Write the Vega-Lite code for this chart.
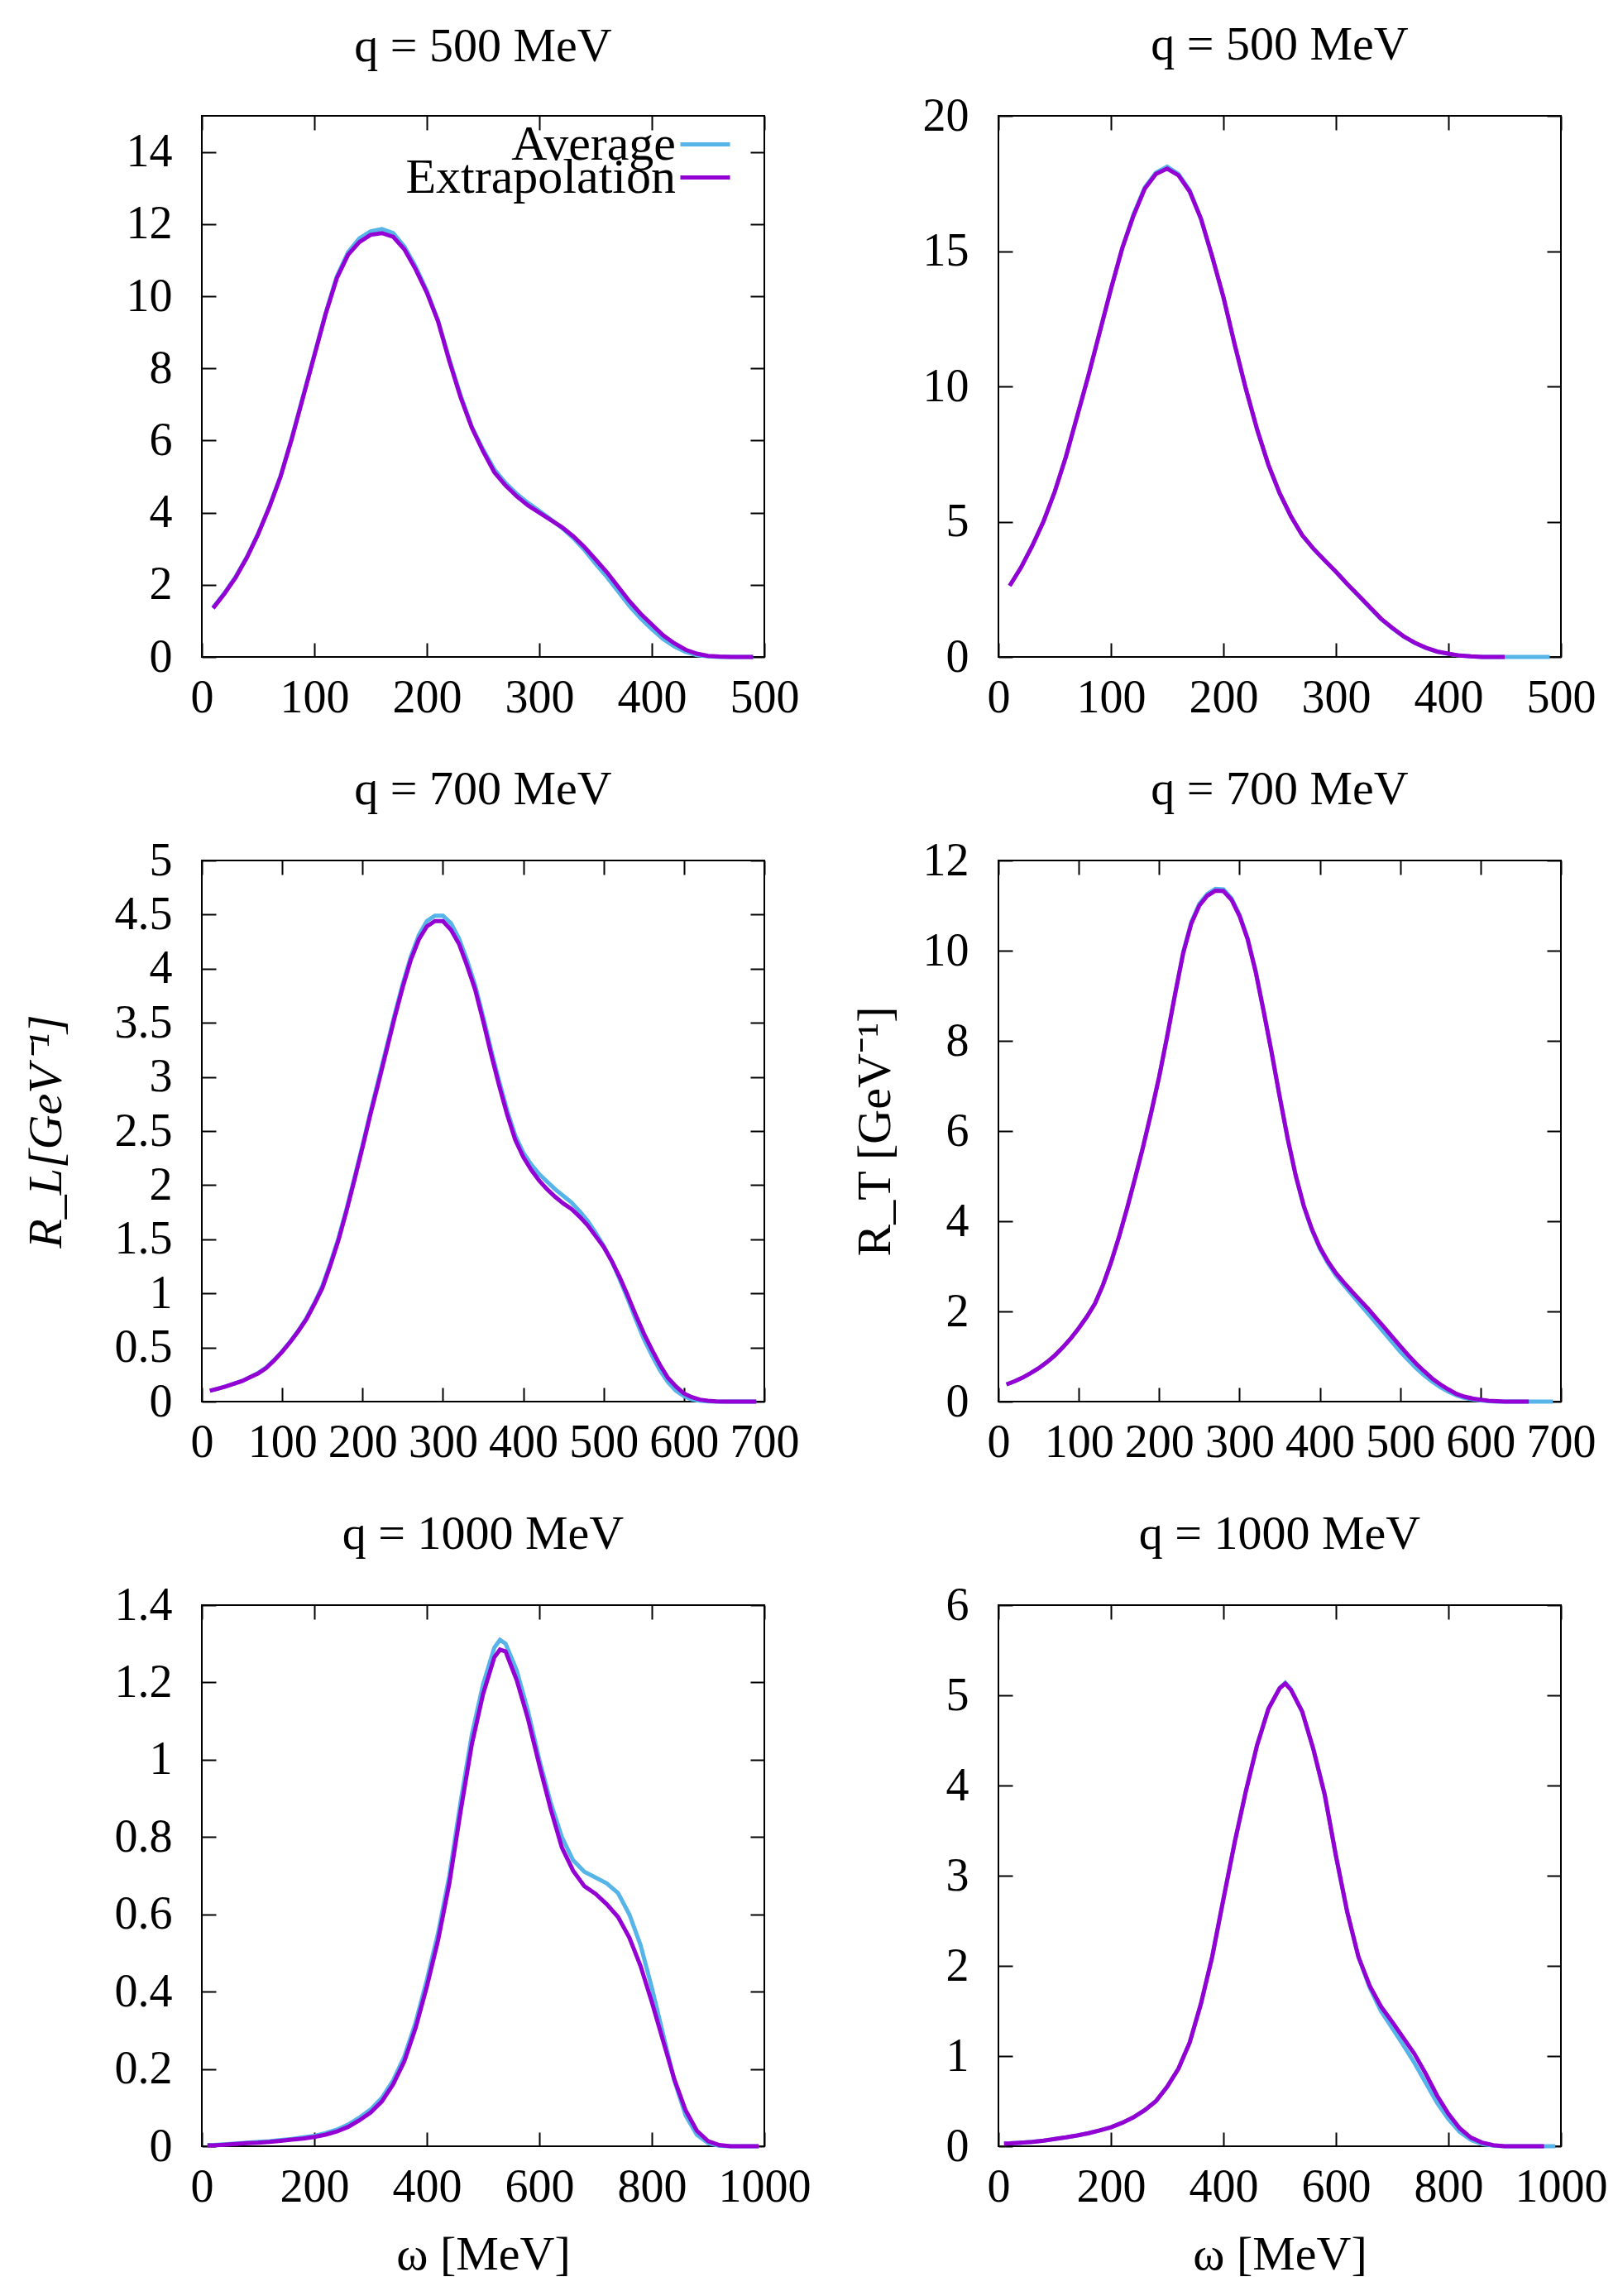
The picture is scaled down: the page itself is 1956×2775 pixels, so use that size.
{
  "$schema": "https://vega.github.io/schema/vega-lite/v6.json",
  "background": "white",
  "padding": {"left": 26, "top": 25, "right": 10, "bottom": 10},
  "config": {
    "view": {"stroke": "black", "strokeWidth": 2},
    "title": {"font": "Liberation Serif", "fontSize": 58, "fontWeight": "normal", "color": "black", "baseline": "alphabetic", "offset": 28, "frame": "group"},
    "axis": {
      "domain": false, "grid": false, "tickColor": "black", "tickWidth": 2, "tickSize": -17,
      "labelFont": "Liberation Serif", "labelFontSize": 56, "labelColor": "black",
      "labelFlush": false, "labelOverlap": false, "labelBound": false, "labelPadding": 39,
      "titleFont": "Liberation Serif", "titleFontSize": 58, "titleFontWeight": "normal", "titleColor": "black"
    },
    "axisLeft": {"labelPadding": 53},
    "axisTop": {"labels": false},
    "axisRight": {"labels": false},
    "legend": {"orient": "none", "title": null, "padding": 0, "symbolType": "stroke", "symbolSize": 3600, "symbolStrokeWidth": 5,
      "labelAlign": "right", "labelOffset": -68, "labelFont": "Liberation Serif", "labelFontSize": 60, "labelColor": "black", "labelLimit": 0},
    "line": {"strokeWidth": 5, "interpolate": "linear"}
  },
  "datasets": {
    "p1": [
      {"w":10,"Average":1.37,"Extrapolation":1.35},{"w":20,"Average":1.77,"Extrapolation":1.75},{"w":30,"Average":2.22,"Extrapolation":2.2},
      {"w":40,"Average":2.77,"Extrapolation":2.75},{"w":50,"Average":3.42,"Extrapolation":3.4},{"w":60,"Average":4.17,"Extrapolation":4.15},
      {"w":70,"Average":5.02,"Extrapolation":5.0},{"w":80,"Average":6.08,"Extrapolation":6.05},{"w":90,"Average":7.23,"Extrapolation":7.2},
      {"w":100,"Average":8.38,"Extrapolation":8.35},{"w":110,"Average":9.53,"Extrapolation":9.5},{"w":120,"Average":10.55,"Extrapolation":10.5},
      {"w":130,"Average":11.22,"Extrapolation":11.15},{"w":140,"Average":11.6,"Extrapolation":11.5},{"w":150,"Average":11.8,"Extrapolation":11.7},
      {"w":160,"Average":11.86,"Extrapolation":11.75},{"w":170,"Average":11.75,"Extrapolation":11.65},{"w":180,"Average":11.38,"Extrapolation":11.3},
      {"w":190,"Average":10.82,"Extrapolation":10.75},{"w":200,"Average":10.15,"Extrapolation":10.1},{"w":210,"Average":9.32,"Extrapolation":9.3},
      {"w":220,"Average":8.25,"Extrapolation":8.2},{"w":230,"Average":7.25,"Extrapolation":7.2},{"w":240,"Average":6.38,"Extrapolation":6.35},
      {"w":250,"Average":5.75,"Extrapolation":5.7},{"w":260,"Average":5.2,"Extrapolation":5.12},{"w":270,"Average":4.82,"Extrapolation":4.75},
      {"w":280,"Average":4.52,"Extrapolation":4.45},{"w":290,"Average":4.27,"Extrapolation":4.2},{"w":300,"Average":4.05,"Extrapolation":4.0},
      {"w":310,"Average":3.82,"Extrapolation":3.8},{"w":320,"Average":3.58,"Extrapolation":3.6},{"w":330,"Average":3.3,"Extrapolation":3.35},
      {"w":340,"Average":2.97,"Extrapolation":3.05},{"w":350,"Average":2.58,"Extrapolation":2.7},{"w":360,"Average":2.22,"Extrapolation":2.35},
      {"w":370,"Average":1.82,"Extrapolation":1.95},{"w":380,"Average":1.42,"Extrapolation":1.55},{"w":390,"Average":1.07,"Extrapolation":1.2},
      {"w":400,"Average":0.77,"Extrapolation":0.9},{"w":410,"Average":0.5,"Extrapolation":0.6},{"w":420,"Average":0.29,"Extrapolation":0.38},
      {"w":430,"Average":0.14,"Extrapolation":0.2},{"w":440,"Average":0.05,"Extrapolation":0.09},{"w":450,"Average":0.015,"Extrapolation":0.03},
      {"w":460,"Average":0,"Extrapolation":0.01},{"w":470,"Average":0,"Extrapolation":0},{"w":480,"Average":0,"Extrapolation":0},
      {"w":490,"Average":0,"Extrapolation":0}
    ],
    "p2": [
      {"w":10,"Average":2.63,"Extrapolation":2.63},{"w":20,"Average":3.3,"Extrapolation":3.3},{"w":30,"Average":4.1,"Extrapolation":4.1},
      {"w":40,"Average":5.0,"Extrapolation":5.0},{"w":50,"Average":6.1,"Extrapolation":6.1},{"w":60,"Average":7.4,"Extrapolation":7.4},
      {"w":70,"Average":8.9,"Extrapolation":8.9},{"w":80,"Average":10.4,"Extrapolation":10.4},{"w":90,"Average":12.0,"Extrapolation":12.0},
      {"w":100,"Average":13.6,"Extrapolation":13.6},{"w":110,"Average":15.1,"Extrapolation":15.1},{"w":120,"Average":16.35,"Extrapolation":16.3},
      {"w":130,"Average":17.35,"Extrapolation":17.3},{"w":140,"Average":17.9,"Extrapolation":17.85},{"w":150,"Average":18.12,"Extrapolation":18.05},
      {"w":160,"Average":17.85,"Extrapolation":17.8},{"w":170,"Average":17.25,"Extrapolation":17.2},{"w":180,"Average":16.2,"Extrapolation":16.2},
      {"w":190,"Average":14.8,"Extrapolation":14.8},{"w":200,"Average":13.3,"Extrapolation":13.3},{"w":210,"Average":11.55,"Extrapolation":11.55},
      {"w":220,"Average":9.9,"Extrapolation":9.9},{"w":230,"Average":8.4,"Extrapolation":8.4},{"w":240,"Average":7.1,"Extrapolation":7.1},
      {"w":250,"Average":6.05,"Extrapolation":6.05},{"w":260,"Average":5.2,"Extrapolation":5.2},{"w":270,"Average":4.5,"Extrapolation":4.5},
      {"w":280,"Average":4.0,"Extrapolation":4.0},{"w":290,"Average":3.57,"Extrapolation":3.57},{"w":300,"Average":3.15,"Extrapolation":3.15},
      {"w":310,"Average":2.7,"Extrapolation":2.7},{"w":320,"Average":2.26,"Extrapolation":2.28},{"w":330,"Average":1.83,"Extrapolation":1.85},
      {"w":340,"Average":1.4,"Extrapolation":1.42},{"w":350,"Average":1.06,"Extrapolation":1.08},{"w":360,"Average":0.76,"Extrapolation":0.77},
      {"w":370,"Average":0.52,"Extrapolation":0.53},{"w":380,"Average":0.33,"Extrapolation":0.34},{"w":390,"Average":0.2,"Extrapolation":0.2},
      {"w":400,"Average":0.11,"Extrapolation":0.12},{"w":410,"Average":0.05,"Extrapolation":0.05},{"w":420,"Average":0.02,"Extrapolation":0.02},
      {"w":430,"Average":0,"Extrapolation":0},{"w":440,"Average":0,"Extrapolation":0},{"w":450,"Average":0,"Extrapolation":0},
      {"w":460,"Average":0,"Extrapolation":null},{"w":470,"Average":0,"Extrapolation":null},{"w":480,"Average":0,"Extrapolation":null},
      {"w":490,"Average":0,"Extrapolation":null}
    ],
    "p3": [
      {"w":10,"Average":0.1,"Extrapolation":0.1},{"w":20,"Average":0.12,"Extrapolation":0.12},{"w":30,"Average":0.14,"Extrapolation":0.14},
      {"w":40,"Average":0.165,"Extrapolation":0.165},{"w":50,"Average":0.19,"Extrapolation":0.19},{"w":60,"Average":0.225,"Extrapolation":0.225},
      {"w":70,"Average":0.265,"Extrapolation":0.26},{"w":80,"Average":0.315,"Extrapolation":0.31},{"w":90,"Average":0.385,"Extrapolation":0.38},
      {"w":100,"Average":0.465,"Extrapolation":0.46},{"w":110,"Average":0.555,"Extrapolation":0.55},{"w":120,"Average":0.655,"Extrapolation":0.65},
      {"w":130,"Average":0.77,"Extrapolation":0.76},{"w":140,"Average":0.91,"Extrapolation":0.9},{"w":150,"Average":1.07,"Extrapolation":1.05},
      {"w":160,"Average":1.28,"Extrapolation":1.26},{"w":170,"Average":1.51,"Extrapolation":1.49},{"w":180,"Average":1.78,"Extrapolation":1.76},
      {"w":190,"Average":2.07,"Extrapolation":2.05},{"w":200,"Average":2.37,"Extrapolation":2.35},{"w":210,"Average":2.68,"Extrapolation":2.66},
      {"w":220,"Average":2.98,"Extrapolation":2.95},{"w":230,"Average":3.28,"Extrapolation":3.25},{"w":240,"Average":3.58,"Extrapolation":3.55},
      {"w":250,"Average":3.86,"Extrapolation":3.83},{"w":260,"Average":4.11,"Extrapolation":4.08},{"w":270,"Average":4.31,"Extrapolation":4.27},
      {"w":280,"Average":4.44,"Extrapolation":4.39},{"w":290,"Average":4.49,"Extrapolation":4.44},{"w":300,"Average":4.49,"Extrapolation":4.44},
      {"w":310,"Average":4.42,"Extrapolation":4.36},{"w":320,"Average":4.28,"Extrapolation":4.23},{"w":330,"Average":4.08,"Extrapolation":4.03},
      {"w":340,"Average":3.85,"Extrapolation":3.81},{"w":350,"Average":3.56,"Extrapolation":3.52},{"w":360,"Average":3.25,"Extrapolation":3.21},
      {"w":370,"Average":2.96,"Extrapolation":2.92},{"w":380,"Average":2.69,"Extrapolation":2.65},{"w":390,"Average":2.46,"Extrapolation":2.42},
      {"w":400,"Average":2.3,"Extrapolation":2.26},{"w":410,"Average":2.19,"Extrapolation":2.14},{"w":420,"Average":2.1,"Extrapolation":2.04},
      {"w":430,"Average":2.03,"Extrapolation":1.96},{"w":440,"Average":1.96,"Extrapolation":1.89},{"w":450,"Average":1.9,"Extrapolation":1.83},
      {"w":460,"Average":1.84,"Extrapolation":1.78},{"w":470,"Average":1.76,"Extrapolation":1.71},{"w":480,"Average":1.67,"Extrapolation":1.63},
      {"w":490,"Average":1.56,"Extrapolation":1.53},{"w":500,"Average":1.44,"Extrapolation":1.43},{"w":510,"Average":1.3,"Extrapolation":1.3},
      {"w":520,"Average":1.13,"Extrapolation":1.15},{"w":530,"Average":0.95,"Extrapolation":0.98},{"w":540,"Average":0.76,"Extrapolation":0.8},
      {"w":550,"Average":0.58,"Extrapolation":0.63},{"w":560,"Average":0.43,"Extrapolation":0.48},{"w":570,"Average":0.29,"Extrapolation":0.34},
      {"w":580,"Average":0.18,"Extrapolation":0.22},{"w":590,"Average":0.1,"Extrapolation":0.14},{"w":600,"Average":0.05,"Extrapolation":0.075},
      {"w":610,"Average":0.02,"Extrapolation":0.04},{"w":620,"Average":0.008,"Extrapolation":0.018},{"w":630,"Average":0.002,"Extrapolation":0.008},
      {"w":640,"Average":0,"Extrapolation":0.002},{"w":650,"Average":0,"Extrapolation":0},{"w":660,"Average":0,"Extrapolation":0},
      {"w":670,"Average":0,"Extrapolation":0},{"w":680,"Average":0,"Extrapolation":0},{"w":690,"Average":0,"Extrapolation":0}
    ],
    "p4": [
      {"w":10,"Average":0.38,"Extrapolation":0.38},{"w":20,"Average":0.45,"Extrapolation":0.45},{"w":30,"Average":0.53,"Extrapolation":0.53},
      {"w":40,"Average":0.63,"Extrapolation":0.63},{"w":50,"Average":0.74,"Extrapolation":0.74},{"w":60,"Average":0.87,"Extrapolation":0.87},
      {"w":70,"Average":1.02,"Extrapolation":1.02},{"w":80,"Average":1.2,"Extrapolation":1.2},{"w":90,"Average":1.4,"Extrapolation":1.4},
      {"w":100,"Average":1.63,"Extrapolation":1.63},{"w":110,"Average":1.88,"Extrapolation":1.88},{"w":120,"Average":2.17,"Extrapolation":2.17},
      {"w":130,"Average":2.58,"Extrapolation":2.58},{"w":140,"Average":3.08,"Extrapolation":3.08},{"w":150,"Average":3.65,"Extrapolation":3.65},
      {"w":160,"Average":4.28,"Extrapolation":4.28},{"w":170,"Average":4.95,"Extrapolation":4.95},{"w":180,"Average":5.65,"Extrapolation":5.65},
      {"w":190,"Average":6.4,"Extrapolation":6.4},{"w":200,"Average":7.2,"Extrapolation":7.2},{"w":210,"Average":8.1,"Extrapolation":8.1},
      {"w":220,"Average":9.05,"Extrapolation":9.05},{"w":230,"Average":9.97,"Extrapolation":9.95},{"w":240,"Average":10.63,"Extrapolation":10.6},
      {"w":250,"Average":11.04,"Extrapolation":11.0},{"w":260,"Average":11.26,"Extrapolation":11.22},{"w":270,"Average":11.37,"Extrapolation":11.33},
      {"w":280,"Average":11.36,"Extrapolation":11.32},{"w":290,"Average":11.16,"Extrapolation":11.13},{"w":300,"Average":10.8,"Extrapolation":10.77},
      {"w":310,"Average":10.28,"Extrapolation":10.26},{"w":320,"Average":9.56,"Extrapolation":9.54},{"w":330,"Average":8.67,"Extrapolation":8.66},
      {"w":340,"Average":7.75,"Extrapolation":7.74},{"w":350,"Average":6.77,"Extrapolation":6.76},{"w":360,"Average":5.83,"Extrapolation":5.83},
      {"w":370,"Average":5.01,"Extrapolation":5.01},{"w":380,"Average":4.33,"Extrapolation":4.34},{"w":390,"Average":3.81,"Extrapolation":3.83},
      {"w":400,"Average":3.39,"Extrapolation":3.42},{"w":410,"Average":3.07,"Extrapolation":3.11},{"w":420,"Average":2.8,"Extrapolation":2.85},
      {"w":430,"Average":2.58,"Extrapolation":2.64},{"w":440,"Average":2.37,"Extrapolation":2.44},{"w":450,"Average":2.16,"Extrapolation":2.25},
      {"w":460,"Average":1.95,"Extrapolation":2.06},{"w":470,"Average":1.74,"Extrapolation":1.85},{"w":480,"Average":1.53,"Extrapolation":1.65},
      {"w":490,"Average":1.32,"Extrapolation":1.44},{"w":500,"Average":1.11,"Extrapolation":1.23},{"w":510,"Average":0.92,"Extrapolation":1.03},
      {"w":520,"Average":0.74,"Extrapolation":0.84},{"w":530,"Average":0.58,"Extrapolation":0.67},{"w":540,"Average":0.44,"Extrapolation":0.51},
      {"w":550,"Average":0.32,"Extrapolation":0.38},{"w":560,"Average":0.22,"Extrapolation":0.27},{"w":570,"Average":0.14,"Extrapolation":0.17},
      {"w":580,"Average":0.08,"Extrapolation":0.11},{"w":590,"Average":0.05,"Extrapolation":0.07},{"w":600,"Average":0.025,"Extrapolation":0.04},
      {"w":610,"Average":0.01,"Extrapolation":0.02},{"w":620,"Average":0,"Extrapolation":0.01},{"w":630,"Average":0,"Extrapolation":0},
      {"w":640,"Average":0,"Extrapolation":0},{"w":650,"Average":0,"Extrapolation":0},{"w":660,"Average":0,"Extrapolation":0},
      {"w":670,"Average":0,"Extrapolation":null},{"w":680,"Average":0,"Extrapolation":null},{"w":690,"Average":0,"Extrapolation":null}
    ],
    "p5": [
      {"w":10,"Average":0.003,"Extrapolation":0.002},{"w":20,"Average":0.003,"Extrapolation":0.002},{"w":40,"Average":0.005,"Extrapolation":0.004},
      {"w":60,"Average":0.007,"Extrapolation":0.006},{"w":80,"Average":0.009,"Extrapolation":0.008},{"w":100,"Average":0.011,"Extrapolation":0.009},
      {"w":120,"Average":0.013,"Extrapolation":0.011},{"w":140,"Average":0.016,"Extrapolation":0.014},{"w":160,"Average":0.019,"Extrapolation":0.017},
      {"w":180,"Average":0.023,"Extrapolation":0.02},{"w":200,"Average":0.027,"Extrapolation":0.024},{"w":220,"Average":0.034,"Extrapolation":0.03},
      {"w":240,"Average":0.043,"Extrapolation":0.038},{"w":260,"Average":0.056,"Extrapolation":0.05},{"w":280,"Average":0.074,"Extrapolation":0.067},
      {"w":300,"Average":0.095,"Extrapolation":0.087},{"w":320,"Average":0.125,"Extrapolation":0.116},{"w":340,"Average":0.17,"Extrapolation":0.16},
      {"w":360,"Average":0.232,"Extrapolation":0.22},{"w":380,"Average":0.32,"Extrapolation":0.306},{"w":400,"Average":0.43,"Extrapolation":0.413},
      {"w":420,"Average":0.552,"Extrapolation":0.533},{"w":440,"Average":0.7,"Extrapolation":0.68},{"w":460,"Average":0.89,"Extrapolation":0.866},
      {"w":480,"Average":1.065,"Extrapolation":1.04},{"w":500,"Average":1.195,"Extrapolation":1.17},{"w":520,"Average":1.29,"Extrapolation":1.265},
      {"w":530,"Average":1.31,"Extrapolation":1.285},{"w":540,"Average":1.3,"Extrapolation":1.28},{"w":560,"Average":1.23,"Extrapolation":1.205},
      {"w":580,"Average":1.125,"Extrapolation":1.105},{"w":600,"Average":1.0,"Extrapolation":0.986},{"w":620,"Average":0.89,"Extrapolation":0.873},
      {"w":640,"Average":0.8,"Extrapolation":0.773},{"w":660,"Average":0.74,"Extrapolation":0.713},{"w":680,"Average":0.71,"Extrapolation":0.673},
      {"w":700,"Average":0.695,"Extrapolation":0.653},{"w":720,"Average":0.68,"Extrapolation":0.626},{"w":740,"Average":0.655,"Extrapolation":0.593},
      {"w":760,"Average":0.6,"Extrapolation":0.54},{"w":780,"Average":0.52,"Extrapolation":0.466},{"w":800,"Average":0.41,"Extrapolation":0.373},
      {"w":820,"Average":0.29,"Extrapolation":0.273},{"w":840,"Average":0.17,"Extrapolation":0.173},{"w":860,"Average":0.08,"Extrapolation":0.093},
      {"w":880,"Average":0.03,"Extrapolation":0.04},{"w":900,"Average":0.008,"Extrapolation":0.013},{"w":920,"Average":0.001,"Extrapolation":0.003},
      {"w":940,"Average":0,"Extrapolation":0},{"w":960,"Average":0,"Extrapolation":0},{"w":980,"Average":0,"Extrapolation":0},
      {"w":990,"Average":0,"Extrapolation":0}
    ],
    "p6": [
      {"w":10,"Average":0.03,"Extrapolation":0.03},{"w":20,"Average":0.032,"Extrapolation":0.032},{"w":40,"Average":0.04,"Extrapolation":0.04},
      {"w":60,"Average":0.048,"Extrapolation":0.048},{"w":80,"Average":0.062,"Extrapolation":0.062},{"w":100,"Average":0.08,"Extrapolation":0.08},
      {"w":120,"Average":0.098,"Extrapolation":0.098},{"w":140,"Average":0.12,"Extrapolation":0.12},{"w":160,"Average":0.145,"Extrapolation":0.145},
      {"w":180,"Average":0.175,"Extrapolation":0.175},{"w":200,"Average":0.21,"Extrapolation":0.21},{"w":220,"Average":0.26,"Extrapolation":0.26},
      {"w":240,"Average":0.32,"Extrapolation":0.32},{"w":260,"Average":0.4,"Extrapolation":0.4},{"w":280,"Average":0.5,"Extrapolation":0.5},
      {"w":300,"Average":0.66,"Extrapolation":0.66},{"w":320,"Average":0.86,"Extrapolation":0.86},{"w":340,"Average":1.15,"Extrapolation":1.15},
      {"w":360,"Average":1.58,"Extrapolation":1.58},{"w":380,"Average":2.1,"Extrapolation":2.1},{"w":400,"Average":2.74,"Extrapolation":2.74},
      {"w":420,"Average":3.37,"Extrapolation":3.37},{"w":440,"Average":3.94,"Extrapolation":3.94},{"w":460,"Average":4.45,"Extrapolation":4.45},
      {"w":480,"Average":4.85,"Extrapolation":4.85},{"w":500,"Average":5.08,"Extrapolation":5.08},{"w":510,"Average":5.14,"Extrapolation":5.13},
      {"w":520,"Average":5.07,"Extrapolation":5.06},{"w":540,"Average":4.82,"Extrapolation":4.82},{"w":560,"Average":4.4,"Extrapolation":4.4},
      {"w":580,"Average":3.9,"Extrapolation":3.9},{"w":600,"Average":3.22,"Extrapolation":3.22},{"w":620,"Average":2.6,"Extrapolation":2.6},
      {"w":640,"Average":2.1,"Extrapolation":2.1},{"w":660,"Average":1.76,"Extrapolation":1.78},{"w":680,"Average":1.5,"Extrapolation":1.55},
      {"w":700,"Average":1.31,"Extrapolation":1.38},{"w":720,"Average":1.12,"Extrapolation":1.2},{"w":740,"Average":0.92,"Extrapolation":1.02},
      {"w":760,"Average":0.7,"Extrapolation":0.8},{"w":780,"Average":0.48,"Extrapolation":0.56},{"w":800,"Average":0.3,"Extrapolation":0.36},
      {"w":820,"Average":0.16,"Extrapolation":0.2},{"w":840,"Average":0.07,"Extrapolation":0.095},{"w":860,"Average":0.025,"Extrapolation":0.04},
      {"w":880,"Average":0.006,"Extrapolation":0.012},{"w":900,"Average":0,"Extrapolation":0},{"w":920,"Average":0,"Extrapolation":0},
      {"w":940,"Average":0,"Extrapolation":0},{"w":960,"Average":0,"Extrapolation":0},{"w":970,"Average":0,"Extrapolation":0},
      {"w":980,"Average":0,"Extrapolation":null},{"w":990,"Average":0,"Extrapolation":null}
    ]
  },
  "resolve": {"scale": {"color": "independent"}, "legend": {"color": "independent"}},
  "bounds": "flush",
  "columns": 2,
  "spacing": {"row": 246, "column": 283},
  "concat": [
    {
      "width": 680, "height": 654,
      "title": {"text": "q = 500 MeV", "offset": 53},
      "data": {"name": "p1"},
      "transform": [{"fold": ["Average", "Extrapolation"], "as": ["series", "R"]}],
      "layer": [
        {
          "transform": [{"filter": "datum.series === 'Average'"}],
          "mark": "line",
          "encoding": {
            "x": {"field": "w", "type": "quantitative", "scale": {"domain": [0, 500], "nice": false}, "axis": {"orient": "bottom", "values": [0, 100, 200, 300, 400, 500], "title": null}},
            "y": {"field": "R", "type": "quantitative", "scale": {"domain": [0, 15], "nice": false}, "axis": {"orient": "left", "values": [0, 2, 4, 6, 8, 10, 12, 14], "title": null}},
            "color": {"field": "series", "type": "nominal", "scale": {"domain": ["Average"], "range": ["#56b4e9"]},
              "legend": {"legendX": 576, "legendY": 2}}
          }
        },
        {
          "transform": [{"filter": "datum.series === 'Extrapolation'"}],
          "mark": "line",
          "encoding": {
            "x": {"field": "w", "type": "quantitative", "axis": null},
            "y": {"field": "R", "type": "quantitative", "axis": null},
            "color": {"field": "series", "type": "nominal", "scale": {"domain": ["Extrapolation"], "range": ["#9400d3"]},
              "legend": {"legendX": 576, "legendY": 42}}
          }
        },
        {
          "mark": {"type": "line", "opacity": 0},
          "encoding": {
            "x": {"field": "w", "type": "quantitative", "axis": {"orient": "top", "values": [0, 100, 200, 300, 400, 500], "title": null}},
            "y": {"field": "R", "type": "quantitative", "axis": {"orient": "right", "values": [0, 2, 4, 6, 8, 10, 12, 14], "title": null}}
          }
        }
      ],
      "resolve": {"scale": {"color": "independent"}, "legend": {"color": "independent"}, "axis": {"x": "independent", "y": "independent"}}
    },
    {
      "width": 680, "height": 654,
      "title": "q = 500 MeV",
      "data": {"name": "p2"},
      "transform": [{"fold": ["Average", "Extrapolation"], "as": ["series", "R"]}],
      "layer": [
        {
          "mark": "line",
          "encoding": {
            "x": {"field": "w", "type": "quantitative", "scale": {"domain": [0, 500], "nice": false}, "axis": {"orient": "bottom", "values": [0, 100, 200, 300, 400, 500], "title": null}},
            "y": {"field": "R", "type": "quantitative", "scale": {"domain": [0, 20], "nice": false}, "axis": {"orient": "left", "values": [0, 5, 10, 15, 20], "title": null}},
            "color": {"field": "series", "type": "nominal", "scale": {"domain": ["Average", "Extrapolation"], "range": ["#56b4e9", "#9400d3"]}, "legend": null}
          }
        },
        {
          "mark": {"type": "line", "opacity": 0},
          "encoding": {
            "x": {"field": "w", "type": "quantitative", "axis": {"orient": "top", "values": [0, 100, 200, 300, 400, 500], "title": null}},
            "y": {"field": "R", "type": "quantitative", "axis": {"orient": "right", "values": [0, 5, 10, 15, 20], "title": null}}
          }
        }
      ],
      "resolve": {"axis": {"x": "independent", "y": "independent"}}
    },
    {
      "width": 680, "height": 654,
      "title": "q = 700 MeV",
      "data": {"name": "p3"},
      "transform": [{"fold": ["Average", "Extrapolation"], "as": ["series", "R"]}],
      "layer": [
        {
          "mark": "line",
          "encoding": {
            "x": {"field": "w", "type": "quantitative", "scale": {"domain": [0, 700], "nice": false}, "axis": {"orient": "bottom", "values": [0, 100, 200, 300, 400, 500, 600, 700], "title": null}},
            "y": {"field": "R", "type": "quantitative", "scale": {"domain": [0, 5], "nice": false}, "axis": {"orient": "left", "values": [0, 0.5, 1, 1.5, 2, 2.5, 3, 3.5, 4, 4.5, 5], "format": "~g", "title": "R_L[GeV⁻¹]", "titleFontStyle": "italic", "titlePadding": 53}},
            "color": {"field": "series", "type": "nominal", "scale": {"domain": ["Average", "Extrapolation"], "range": ["#56b4e9", "#9400d3"]}, "legend": null}
          }
        },
        {
          "mark": {"type": "line", "opacity": 0},
          "encoding": {
            "x": {"field": "w", "type": "quantitative", "axis": {"orient": "top", "values": [0, 100, 200, 300, 400, 500, 600, 700], "title": null}},
            "y": {"field": "R", "type": "quantitative", "axis": {"orient": "right", "values": [0, 0.5, 1, 1.5, 2, 2.5, 3, 3.5, 4, 4.5, 5], "title": null}}
          }
        }
      ],
      "resolve": {"axis": {"x": "independent", "y": "independent"}}
    },
    {
      "width": 680, "height": 654,
      "title": "q = 700 MeV",
      "data": {"name": "p4"},
      "transform": [{"fold": ["Average", "Extrapolation"], "as": ["series", "R"]}],
      "layer": [
        {
          "mark": "line",
          "encoding": {
            "x": {"field": "w", "type": "quantitative", "scale": {"domain": [0, 700], "nice": false}, "axis": {"orient": "bottom", "values": [0, 100, 200, 300, 400, 500, 600, 700], "title": null}},
            "y": {"field": "R", "type": "quantitative", "scale": {"domain": [0, 12], "nice": false}, "axis": {"orient": "left", "values": [0, 2, 4, 6, 8, 10, 12], "title": "R_T [GeV⁻¹]", "titlePadding": 28}},
            "color": {"field": "series", "type": "nominal", "scale": {"domain": ["Average", "Extrapolation"], "range": ["#56b4e9", "#9400d3"]}, "legend": null}
          }
        },
        {
          "mark": {"type": "line", "opacity": 0},
          "encoding": {
            "x": {"field": "w", "type": "quantitative", "axis": {"orient": "top", "values": [0, 100, 200, 300, 400, 500, 600, 700], "title": null}},
            "y": {"field": "R", "type": "quantitative", "axis": {"orient": "right", "values": [0, 2, 4, 6, 8, 10, 12], "title": null}}
          }
        }
      ],
      "resolve": {"axis": {"x": "independent", "y": "independent"}}
    },
    {
      "width": 680, "height": 654,
      "title": "q = 1000 MeV",
      "data": {"name": "p5"},
      "transform": [{"fold": ["Average", "Extrapolation"], "as": ["series", "R"]}],
      "layer": [
        {
          "mark": "line",
          "encoding": {
            "x": {"field": "w", "type": "quantitative", "scale": {"domain": [0, 1000], "nice": false}, "axis": {"orient": "bottom", "values": [0, 200, 400, 600, 800, 1000], "format": "d", "title": "ω [MeV]", "titlePadding": 25}},
            "y": {"field": "R", "type": "quantitative", "scale": {"domain": [0, 1.4], "nice": false}, "axis": {"orient": "left", "values": [0, 0.2, 0.4, 0.6, 0.8, 1, 1.2, 1.4], "format": "~g", "title": null}},
            "color": {"field": "series", "type": "nominal", "scale": {"domain": ["Average", "Extrapolation"], "range": ["#56b4e9", "#9400d3"]}, "legend": null}
          }
        },
        {
          "mark": {"type": "line", "opacity": 0},
          "encoding": {
            "x": {"field": "w", "type": "quantitative", "axis": {"orient": "top", "values": [0, 200, 400, 600, 800, 1000], "title": null}},
            "y": {"field": "R", "type": "quantitative", "axis": {"orient": "right", "values": [0, 0.2, 0.4, 0.6, 0.8, 1, 1.2, 1.4], "title": null}}
          }
        }
      ],
      "resolve": {"axis": {"x": "independent", "y": "independent"}}
    },
    {
      "width": 680, "height": 654,
      "title": "q = 1000 MeV",
      "data": {"name": "p6"},
      "transform": [{"fold": ["Average", "Extrapolation"], "as": ["series", "R"]}],
      "layer": [
        {
          "mark": "line",
          "encoding": {
            "x": {"field": "w", "type": "quantitative", "scale": {"domain": [0, 1000], "nice": false}, "axis": {"orient": "bottom", "values": [0, 200, 400, 600, 800, 1000], "format": "d", "title": "ω [MeV]", "titlePadding": 25}},
            "y": {"field": "R", "type": "quantitative", "scale": {"domain": [0, 6], "nice": false}, "axis": {"orient": "left", "values": [0, 1, 2, 3, 4, 5, 6], "title": null}},
            "color": {"field": "series", "type": "nominal", "scale": {"domain": ["Average", "Extrapolation"], "range": ["#56b4e9", "#9400d3"]}, "legend": null}
          }
        },
        {
          "mark": {"type": "line", "opacity": 0},
          "encoding": {
            "x": {"field": "w", "type": "quantitative", "axis": {"orient": "top", "values": [0, 200, 400, 600, 800, 1000], "title": null}},
            "y": {"field": "R", "type": "quantitative", "axis": {"orient": "right", "values": [0, 1, 2, 3, 4, 5, 6], "title": null}}
          }
        }
      ],
      "resolve": {"axis": {"x": "independent", "y": "independent"}}
    }
  ]
}
